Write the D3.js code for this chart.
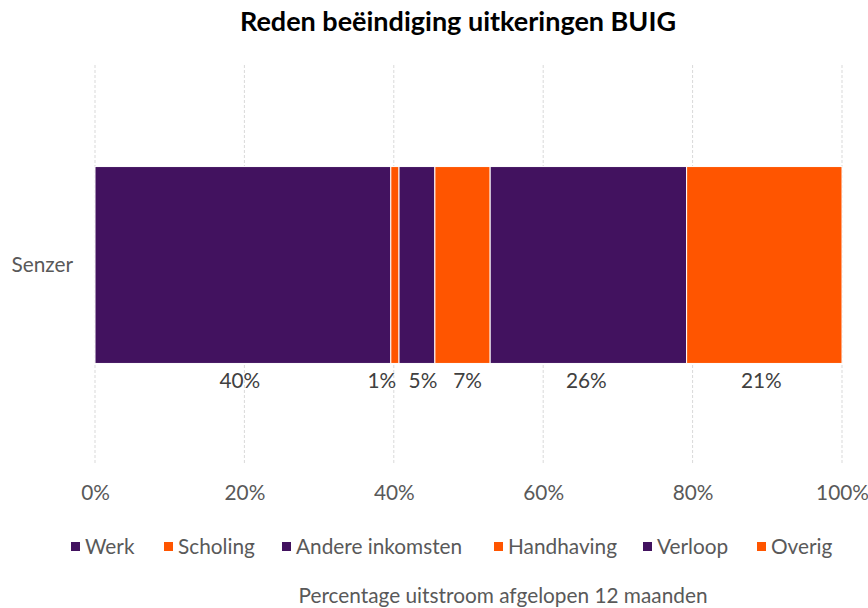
<!DOCTYPE html>
<html>
<head>
<meta charset="utf-8">
<script src="https://cdn.jsdelivr.net/npm/d3@7"></script>
<style>
  body { margin: 0; background: #fff; }
  text { font-family: Lato, "Open Sans", sans-serif; }
</style>
</head>
<body>
<div id="container"></div>
<script>
const WIDTH = 868;
const HEIGHT = 608;
const MARGIN = { TOP: 65, BOTTOM: 143, LEFT: 95, RIGHT: 26 };

const width = WIDTH - MARGIN.LEFT - MARGIN.RIGHT;
const height = HEIGHT - MARGIN.TOP - MARGIN.BOTTOM;

// data
const categories = ['Senzer'];
const seriesNames = ['Werk', 'Scholing', 'Andere inkomsten', 'Handhaving', 'Verloop', 'Overig'];
const seriesValues = [39.6, 1.1, 4.8, 7.4, 26.3, 20.8];
const seriesLabels = ['40%', '1%', '5%', '7%', '26%', '21%'];
const tickValues = [0, 20, 40, 60, 80, 100];

const PURPLE = '#42125F';
const ORANGE = '#FF5500';
const colors = [PURPLE, ORANGE, PURPLE, ORANGE, PURPLE, ORANGE];
const FONT_SIZE = '20.8px';

const svg = d3.select('#container')
              .append('svg')
                .attr('width', WIDTH)
                .attr('height', HEIGHT);

svg.append('text')
   .attr('x', 458)
   .attr('y', 31)
   .attr('text-anchor', 'middle')
   .style('font-size', '27px')
   .style('font-weight', 'bold')
   .attr('fill', '#000')
   .text('Reden beëindiging uitkeringen BUIG');

const container = svg.append('g')
                     .attr('transform', `translate(${MARGIN.LEFT}, ${MARGIN.TOP})`);

const xscale = d3.scaleLinear().domain([0, 100]).range([0, width]);
const yscale = d3.scaleBand().domain(categories).range([0, height])
                 .paddingInner(0.5075).paddingOuter(0.254);

// gridlines
container.selectAll('.grid')
  .data(tickValues)
  .enter()
  .append('line')
    .attr('class', 'grid')
    .attr('x1', d => xscale(d))
    .attr('x2', d => xscale(d))
    .attr('y1', 0)
    .attr('y2', height)
    .attr('stroke', '#d9d9d9')
    .attr('stroke-width', 1)
    .attr('stroke-dasharray', '3,2');

// x axis labels
const xAxis = container.append('g')
  .attr('transform', `translate(0, ${height + 20})`)
  .call(d3.axisBottom(xscale).tickValues(tickValues).tickFormat(d => d + '%').tickSize(0).tickPadding(0));
xAxis.select('.domain').remove();
xAxis.selectAll('text')
  .style('font-size', FONT_SIZE)
  .attr('fill', '#595959')
  .attr('font-family', 'Lato, sans-serif');

// y axis label
const yAxis = container.append('g')
  .call(d3.axisLeft(yscale).tickSize(0).tickPadding(22));
yAxis.select('.domain').remove();
yAxis.selectAll('text')
  .style('font-size', FONT_SIZE)
  .attr('fill', '#595959')
  .attr('font-family', 'Lato, sans-serif');

// stacked segments
const segments = seriesValues.map((v, i) => {
  const start = d3.sum(seriesValues.slice(0, i));
  return { name: seriesNames[i], start, end: start + v, label: seriesLabels[i], color: colors[i] };
});

container.selectAll('.seg')
  .data(segments)
  .enter()
  .append('rect')
    .attr('class', 'seg')
    .attr('x', d => xscale(d.start))
    .attr('y', yscale('Senzer'))
    .attr('width', d => xscale(d.end) - xscale(d.start))
    .attr('height', yscale.bandwidth())
    .attr('fill', d => d.color)
    .attr('stroke', '#fff')
    .attr('stroke-width', 1);

// data labels below bar (small one nudged left like the original)
const labelNudge = [-3, -13, 6, 5, -2, -3];
container.selectAll('.lbl')
  .data(segments)
  .enter()
  .append('text')
    .attr('class', 'lbl')
    .attr('x', (d, i) => (xscale(d.start) + xscale(d.end)) / 2 + labelNudge[i])
    .attr('y', yscale('Senzer') + yscale.bandwidth() + 25)
    .attr('text-anchor', 'middle')
    .style('font-size', FONT_SIZE)
    .attr('fill', '#404040')
    .text(d => d.label);

// legend
const legendX = [71, 164, 282, 494, 643, 757];
const legend = svg.append('g').attr('transform', 'translate(0, 547)');
const items = legend.selectAll('.item')
  .data(seriesNames)
  .enter()
  .append('g')
    .attr('class', 'item')
    .attr('transform', (d, i) => `translate(${legendX[i]}, 0)`);
items.append('rect')
  .attr('x', 0)
  .attr('y', -5)
  .attr('width', 9)
  .attr('height', 9)
  .attr('fill', (d, i) => colors[i]);
items.append('text')
  .attr('x', 14)
  .attr('y', 7)
  .style('font-size', FONT_SIZE)
  .attr('fill', '#595959')
  .text(d => d);

// axis title
svg.append('text')
   .attr('x', 503)
   .attr('y', 603)
   .attr('text-anchor', 'middle')
   .style('font-size', FONT_SIZE)
   .attr('fill', '#595959')
   .text('Percentage uitstroom afgelopen 12 maanden');
</script>
</body>
</html>
